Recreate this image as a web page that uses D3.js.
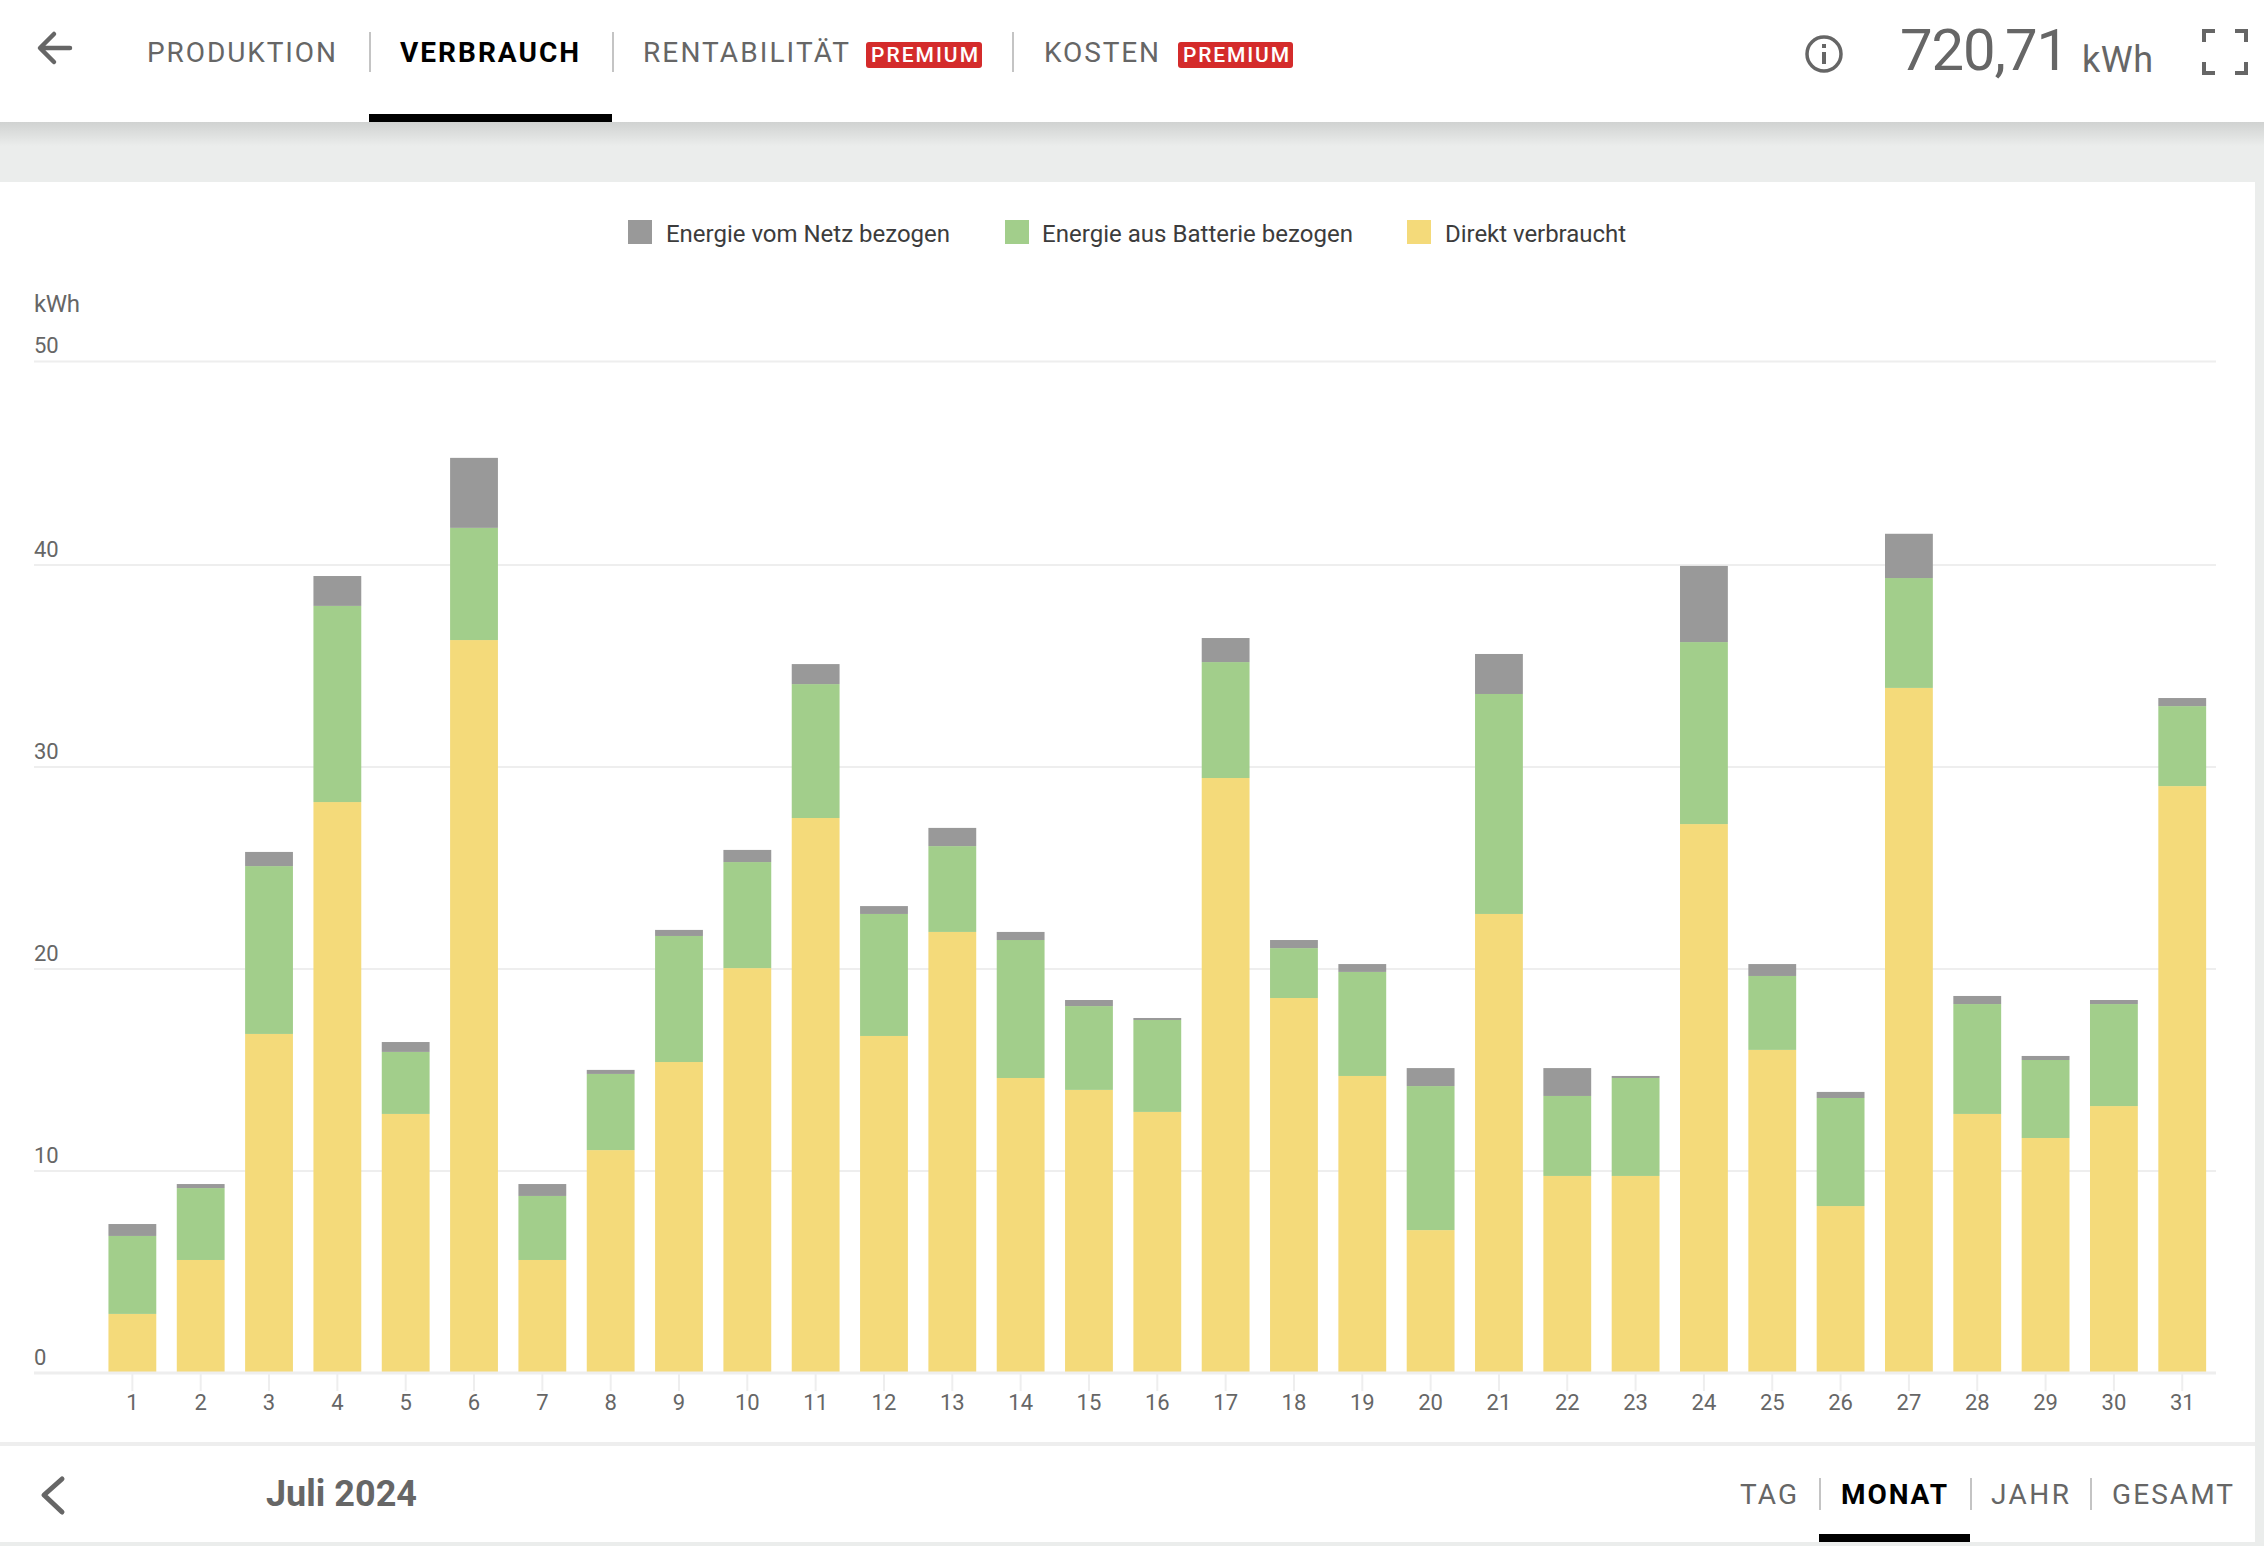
<!DOCTYPE html>
<html>
<head>
<meta charset="utf-8">
<script src="https://cdn.jsdelivr.net/npm/d3@7"></script>
<style>
  html, body { margin: 0; padding: 0; background: #ebedec; }
  svg { display: block; font-family: Roboto, sans-serif; }
</style>
</head>
<body>
<div id="chart"></div>
<script>
var days = ['1','2','3','4','5','6','7','8','9','10','11','12','13','14','15','16','17','18','19','20','21','22','23','24','25','26','27','28','29','30','31'];
var direkt = [2.90,5.57,16.76,28.24,12.80,36.26,5.57,11.01,15.37,20.02,27.45,16.66,21.81,14.58,13.99,12.90,29.43,18.54,14.68,7.05,22.70,9.73,9.73,27.15,15.97,8.24,33.89,12.80,11.61,13.19,29.03];
var batterie = [3.86,3.56,8.31,9.71,3.07,5.54,3.17,3.77,6.24,5.25,6.63,6.04,4.25,6.83,4.15,4.55,5.74,2.47,5.15,7.13,10.89,3.96,4.85,9.01,3.66,5.35,5.44,5.44,3.86,5.05,3.96];
var netz = [0.59,0.20,0.70,1.48,0.49,3.44,0.59,0.20,0.30,0.60,0.99,0.39,0.90,0.40,0.30,0.10,1.19,0.40,0.39,0.89,1.98,1.38,0.10,3.77,0.59,0.30,2.18,0.40,0.20,0.20,0.40];
var yTicks = [0,10,20,30,40,50];
var seriesKeys = ['direkt','batterie','netz'];
var legendNames = ['Energie vom Netz bezogen','Energie aus Batterie bezogen','Direkt verbraucht'];
var colors = {direkt:'#f4da7a', batterie:'#a2ce8b', netz:'#999999'};

var width = 2264, height = 1546;
var svg = d3.select('#chart').append('svg')
  .attr('width',width)
  .attr('height',height);

// page panels
function panel(x,y,w,h,fill){
  return svg.append('rect').attr('x',x).attr('y',y).attr('width',w).attr('height',h).attr('fill',fill);
}
panel(0,0,width,height,'#ebedec');
var shadow = svg.append('defs').append('linearGradient')
  .attr('id','headShadow').attr('x1',0).attr('x2',0).attr('y1',0).attr('y2',1);
shadow.append('stop').attr('offset','0%').attr('stop-color','#d0d2d1');
shadow.append('stop').attr('offset','100%').attr('stop-color','#ebedec');
panel(0,122,width,24,'url(#headShadow)');
panel(0,0,width,122,'#ffffff');
panel(0,182,2255,1260,'#ffffff');
panel(0,1442,2255,4,'#eeeeee');
panel(0,1446,2255,96,'#ffffff');

// text squeezed to the width it has in the picture
function label(txt,x0,x1,base,size,weight,color){
  return svg.append('text')
    .attr('x',x0)
    .attr('y',base)
    .attr('textLength',x1-x0)
    .attr('lengthAdjust','spacing')
    .style('font-size',size+'px')
    .style('font-weight',weight)
    .style('fill',color)
    .text(txt);
}
function divider(x,y0,y1){
  svg.append('line').attr('x1',x).attr('x2',x).attr('y1',y0).attr('y2',y1)
    .attr('stroke','#c4c4c4').attr('stroke-width',2);
}
function badge(x0,x1){
  panel(x0,42,x1-x0,26,'#d42b2b').attr('rx',3);
  label('PREMIUM',x0+5,x1-4,62,21,500,'#ffffff');
}

// top tabs
var grey = '#666666';
label('PRODUKTION',147,336,62,28,400,grey);
divider(370,32,72);
label('VERBRAUCH',400,579,62,28,700,'#000000');
divider(613,32,72);
label('RENTABILITÄT',643,849,62,28,400,grey);
badge(866,982);
divider(1013,32,72);
label('KOSTEN',1044,1159,62,28,400,grey);
badge(1178,1293);
panel(369,114,243,8,'#000000');

// back arrow
svg.append('path').attr('d','M70 48H41M54 34L40 48L54 62')
  .attr('fill','none').attr('stroke',grey).attr('stroke-width',4.5).attr('stroke-linecap','round').attr('stroke-linejoin','round');

// info icon
svg.append('circle').attr('cx',1824).attr('cy',54).attr('r',17).attr('fill','none').attr('stroke',grey).attr('stroke-width',3.5);
svg.append('rect').attr('x',1822).attr('y',52).attr('width',4).attr('height',12).attr('fill',grey);
svg.append('rect').attr('x',1822).attr('y',44).attr('width',4).attr('height',4).attr('fill',grey);

// total
label('720,71',1900,2069,70,58,400,grey);
label('kWh',2082,2153,72,36,400,grey);

// fullscreen icon
svg.append('path')
  .attr('d','M2204 42V31H2215M2235 31H2246V42M2204 62V73H2215M2235 73H2246V62')
  .attr('fill','none').attr('stroke',grey).attr('stroke-width',4);

// legend
var legendX = [[628,666,950],[1005,1042,1353],[1407,1445,1626]];
var legendColors = [colors.netz,colors.batterie,colors.direkt];
legendNames.forEach(function(d,i){
  panel(legendX[i][0],220,24,24,legendColors[i]);
  label(d,legendX[i][1],legendX[i][2],242,24,400,'#3c3c3c');
});

// scales
var x = d3.scaleBand()
  .domain(days)
  .range([98.2,2216.4])
  .paddingInner(0.3)
  .paddingOuter(0.15);
// the top grid step in the picture is a little taller than the others
var y = d3.scaleLinear()
  .domain([0,40,50])
  .range([1372.5,564.5,361]);

// grid and y labels
var yAxis = d3.axisRight(y).tickValues(yTicks).tickSize(2182);
var yG = svg.append('g')
  .attr('transform','translate(34,0)')
  .call(yAxis);
yG.select('.domain').remove();
yG.selectAll('.tick line').attr('stroke','#eeeeee').attr('stroke-width',2);
yG.selectAll('.tick text')
  .attr('x',0)
  .attr('dy',-8.5)
  .style('font-family','Roboto, sans-serif')
  .style('font-size','22px')
  .style('fill',grey);

label('kWh',34,80,312,24,400,grey);

// stacked bars
var rows = days.map(function(d,i){
  return {day:d, direkt:direkt[i], batterie:batterie[i], netz:netz[i]};
});
var stack = d3.stack().keys(seriesKeys);
svg.append('g').selectAll('g')
  .data(stack(rows))
  .enter()
  .append('g')
  .attr('fill',function(s){return colors[s.key]})
  .selectAll('rect')
  .data(function(s){return s})
  .enter()
  .append('rect')
  .attr('x',function(d){return x(d.data.day)})
  .attr('width',x.bandwidth())
  .attr('y',function(d){return y(d[1])})
  .attr('height',function(d){return y(d[0])-y(d[1])});

// x axis
var xAxis = d3.axisBottom(x).tickSize(18).tickPadding(3);
var xG = svg.append('g')
  .attr('transform','translate(0,1373)')
  .call(xAxis);
xG.select('.domain').remove();
xG.selectAll('.tick line').attr('stroke','#eeeeee').attr('stroke-width',2);
xG.selectAll('.tick text')
  .style('font-family','Roboto, sans-serif')
  .style('font-size','22px')
  .style('fill',grey);
svg.append('line').attr('x1',34).attr('x2',2216).attr('y1',1373).attr('y2',1373)
  .attr('stroke','#eeeeee').attr('stroke-width',3);

// bottom bar
svg.append('path').attr('d','M62 1479L44 1495L62 1512')
  .attr('fill','none').attr('stroke',grey).attr('stroke-width',5).attr('stroke-linecap','round').attr('stroke-linejoin','round');
label('Juli 2024',266,417,1506,36,700,grey);
label('TAG',1740,1797,1504,28,400,grey);
divider(1820,1478,1510);
label('MONAT',1841,1947,1504,28,700,'#000000');
divider(1971,1478,1510);
label('JAHR',1991,2069,1504,28,400,grey);
divider(2091,1478,1510);
label('GESAMT',2112,2233,1504,28,400,grey);
panel(1819,1534,151,8,'#000000');
</script>
</body>
</html>
